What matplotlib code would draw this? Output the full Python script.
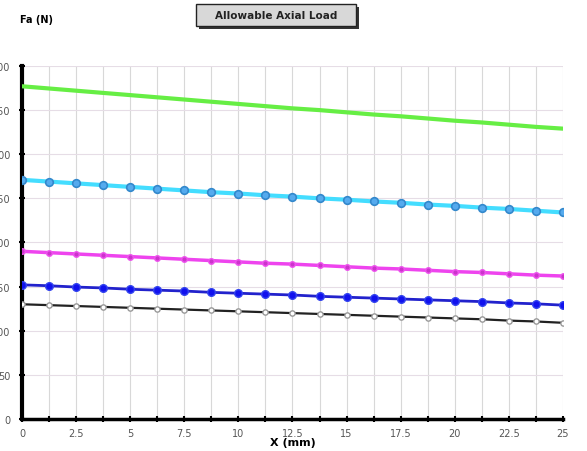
import matplotlib.pyplot as plt
from matplotlib.patches import Rectangle
import numpy as np

# x positions (mm)
x = [0, 1.25, 2.5, 3.75, 5, 6.25, 7.5, 8.75, 10, 11.25, 12.5,
     13.75, 15, 16.25, 17.5, 18.75, 20, 21.25, 22.5, 23.75, 25]

green = [377, 374.5, 372, 369.5, 367, 364.5, 362, 359.5, 357, 354.5, 352,
         350, 347.5, 345, 343, 340.5, 338, 336, 333.5, 331, 329]
cyan = [271, 269, 267, 265, 263, 261, 259, 257, 255.5, 253.5, 252,
        250, 248.5, 246.5, 245, 243, 241.5, 239.5, 238, 236, 234]
magenta = [190, 188.5, 187, 185.5, 184, 182.5, 181, 179.5, 178, 176.5, 175.5,
           174, 172.5, 171, 170, 168.5, 167, 166, 164.5, 163, 162]
blue = [152, 151, 149.5, 148.5, 147, 146, 145, 143.5, 142.5, 141.5, 140.5,
        139, 138, 137, 136, 135, 134, 133, 131.5, 130.5, 129]
black = [130, 129, 128, 127, 126, 125, 124, 123, 122, 121, 120,
         119, 118, 117, 116, 115, 114, 113, 111.5, 110.5, 109]

xticks = [0, 2.5, 5, 7.5, 10, 12.5, 15, 17.5, 20, 22.5, 25]
xticklabels = ['0', '2.5', '5', '7.5', '10', '12.5', '15', '17.5', '20', '22.5', '25']
yticks = [0, 50, 100, 150, 200, 250, 300, 350, 400]

fig = plt.figure(figsize=(5.87, 4.52), dpi=100)
ax = fig.add_axes([0.0375, 0.0708, 0.9215, 0.781])

# grid
for xv in x:
    ax.axvline(xv, color='#d8d8d8', lw=0.8, zorder=0)
for yv in yticks[1:]:
    ax.axhline(yv, color='#e6dde6', lw=0.8, zorder=0)

ax.plot(x, green, color='#66ee44', lw=3, zorder=3)
ax.plot(x, cyan, color='#44ddff', lw=3, zorder=3)
ax.plot(x, cyan, lw=0, marker='o', ms=5.5,
        mfc='#55aaee', mec='#3388cc', mew=1.2, zorder=4)
ax.plot(x, magenta, color='#ee44ee', lw=2.5, marker='o', ms=4,
        mfc='#cc33cc', mec='#ee55ee', zorder=3)
ax.plot(x, blue, color='#2222cc', lw=2, marker='o', ms=5.5,
        mfc='#1111ee', mec='#3344ee', zorder=3)
ax.plot(x, black, color='#222222', lw=1.6, marker='o', ms=3.8,
        mfc='white', mec='#999999', mew=1, zorder=3)

ax.set_xlim(0, 25)
ax.set_ylim(0, 400)
ax.set_xticks(x, minor=True)
ax.set_xticks(xticks)
ax.set_xticklabels(xticklabels)
ax.set_yticks(yticks)
ax.set_yticklabels([str(v) for v in yticks])
ax.tick_params(axis='both', which='both', direction='inout', length=5, width=1.5,
               labelsize=7, labelcolor='#555555', color='black')
ax.tick_params(axis='x', pad=4)
ax.tick_params(axis='y', pad=6)

for s in ['top', 'right']:
    ax.spines[s].set_visible(False)
ax.spines['left'].set_linewidth(3)
ax.spines['bottom'].set_linewidth(2.5)

ax.set_xlabel('X (mm)', fontsize=8, fontweight='bold', labelpad=-1)
fig.text(0.034, 0.955, 'Fa (N)', fontsize=7, fontweight='bold', va='center')

# title button with a drop shadow
W, H = 587, 452
fig.patches.append(Rectangle((199 / W, 1 - 30 / H), 160 / W, 22 / H,
                             transform=fig.transFigure, fc='#333333', ec='none'))
fig.patches.append(Rectangle((196 / W, 1 - 27 / H), 160 / W, 22 / H,
                             transform=fig.transFigure, fc='#d8d8d8', ec='#222222', lw=1))
fig.text(276 / W, 1 - 16 / H, 'Allowable Axial Load', fontsize=7.5, fontweight='bold',
         ha='center', va='center', color='#222222')

fig.savefig('out.png', dpi=100)
